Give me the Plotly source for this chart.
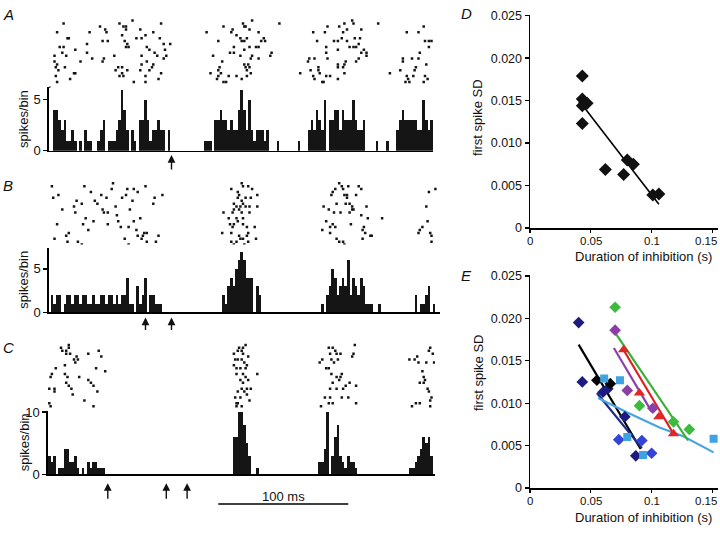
import plotly.graph_objects as go

W, H = 720, 534
FONT = "Liberation Sans, Arial, sans-serif"

# ---------------- histogram data (spikes per 2-ms bin) ----------------
BIN_MS = 2
a_start, b_start, c_start = 4, 2, 0

a_counts = ([4, 4, 3, 2, 3, 1, 1, 2, 1, 0, 1, 0, 2, 1, 1, 0, 0, 1, 2, 3, 0, 1, 1, 1, 2, 3, 6, 4, 2, 0,
             2, 1, 0, 3, 3, 5, 3, 1, 2, 2, 3, 2, 2, 0, 2]
            + [0] * 13 + [1, 1, 1, 0]
            + [3, 3, 4, 3, 3, 2, 3, 2, 2, 4, 6, 4, 2, 5, 2, 1, 2, 2, 2, 1, 2]
            + [0, 0, 0, 1] + [0] * 7 + [1, 0, 0, 0]
            + [2, 3, 2, 4, 3, 2, 5, 0, 3, 3, 4, 4, 2, 4, 3, 3, 3, 5, 3, 2, 2, 3]
            + [0, 0, 0, 0, 1, 0, 0, 0, 1, 0, 0, 0]
            + [2, 3, 4, 3, 3, 3, 3, 3, 2, 2, 5, 3, 2, 3])

b_counts = ([2, 1, 2, 2, 0, 1, 2, 2, 1, 2, 2, 1, 2, 2, 1, 1, 2, 1, 1, 2, 2, 1, 2, 2, 1, 2, 1, 2, 2, 4,
             1, 1, 0, 3, 1, 2, 4, 0, 2, 2, 1, 1, 1]
            + [0] * 23
            + [2, 1, 3, 4, 3, 5, 6, 7, 6, 4, 4, 4, 0, 3, 2]
            + [0] * 23
            + [1, 0, 2, 3, 5, 4, 2, 3, 4, 3, 6, 2, 4, 3, 2, 4, 3, 1, 1, 1, 0, 0, 1]
            + [0] * 13
            + [2, 0, 1, 1, 2, 3, 0, 1])

c_counts = ([3, 2, 3, 0, 1, 1, 4, 4, 2, 2, 3, 1, 0, 1, 0, 2, 1, 2, 2, 1, 1, 1]
            + [0] * 49
            + [6, 6, 10, 10, 8, 5, 3, 0, 0, 1]
            + [0] * 23
            + [2, 2, 4, 10, 0, 3, 6, 8, 3, 2, 1, 3, 2, 2, 1]
            + [0] * 20
            + [1, 1, 2, 3, 4, 6, 5, 6, 3])

# ---------------- raster data: (spike time ms, trial) ----------------
a_spikes = [
    (12, 2), (7, 5), (15, 7), (16, 7), (9, 10), (12, 10), (11, 12), (5, 13), (14, 13), (21, 11), (5, 15),
    (7, 16), (6, 17), (13, 17), (8, 18), (20, 19), (21, 19), (6, 20), (7, 22), (17, 21), (1, 24),
    (32, 5), (30, 9), (25, 15), (30, 12), (34, 14), (40, 3), (44, 4), (45, 5), (46, 8), (42, 8), (43, 14),
    (42, 15), (51, 13), (55, 2), (58, 3), (60, 3), (60, 4), (65, 1), (71, 4), (57, 6), (59, 8), (61, 9),
    (60, 10), (62, 10), (68, 7), (75, 6), (72, 7), (81, 5), (87, 2), (86, 7), (89, 9), (94, 9), (76, 10),
    (78, 11), (72, 13), (82, 12), (84, 13), (90, 11), (91, 13), (54, 17), (52, 18), (57, 17), (61, 18),
    (57, 19), (55, 20), (58, 20), (72, 16), (76, 15), (80, 17), (71, 18), (78, 18), (89, 14), (87, 19),
    (85, 21), (75, 20), (75, 22), (66, 22), (81, 16),
    (122, 5), (135, 3), (131, 8), (127, 13), (134, 15), (132, 17), (131, 18), (133, 19), (125, 19),
    (131, 20), (130, 21), (135, 22), (137, 22), (139, 20), (145, 20), (149, 21), (150, 2), (151, 3),
    (152, 3), (157, 1), (155, 4), (142, 4), (141, 5), (145, 6), (148, 7), (149, 8), (151, 8), (153, 7),
    (162, 5), (166, 7), (164, 8), (160, 10), (155, 10), (162, 10), (167, 8), (172, 12), (171, 13),
    (143, 10), (143, 12), (140, 12), (151, 11), (148, 13), (157, 13), (156, 14), (162, 14), (154, 16),
    (151, 16), (152, 17), (155, 17), (153, 18), (156, 19), (153, 20), (178, 2),
    (204, 5), (207, 8), (213, 5), (215, 3), (224, 3), (228, 2), (234, 1), (235, 2), (230, 4), (227, 5),
    (226, 7), (223, 8), (220, 8), (230, 8), (236, 7), (241, 4), (240, 7), (235, 10), (232, 10), (237, 10),
    (239, 9), (243, 11), (245, 12), (245, 13), (241, 12), (239, 14), (237, 15), (223, 11), (214, 10),
    (214, 12), (215, 14), (205, 14), (201, 14), (200, 15), (202, 18), (204, 20), (208, 17), (208, 18),
    (209, 19), (205, 21), (211, 22), (212, 22), (214, 20), (217, 20), (223, 21), (223, 17), (223, 16),
    (229, 15), (228, 16), (227, 17), (228, 19), (194, 19), (254, 2),
    (276, 5), (285, 5), (289, 3), (293, 8), (295, 8), (290, 8), (293, 10), (286, 12), (285, 14), (280, 14),
    (273, 14), (273, 15), (283, 17), (291, 16), (282, 18), (271, 18), (276, 20), (281, 20), (277, 21),
    (275, 22), (278, 22), (289, 22), (290, 20), (292, 21), (263, 19),
]

b_spikes = [
    (3, 2), (4, 6), (8, 5), (7, 15), (5, 20), (11, 10), (16, 18), (14, 19), (15, 21), (20, 9), (21, 11),
    (22, 7), (26, 8), (23, 21), (26, 22), (28, 2), (27, 15), (29, 13), (31, 17), (33, 4), (35, 14), (36, 7),
    (38, 8), (41, 5), (42, 10), (43, 11), (45, 6), (46, 11), (46, 15), (49, 3), (50, 1), (52, 9), (53, 12),
    (54, 14), (56, 16), (57, 6), (59, 20), (60, 5), (61, 3), (62, 22), (63, 10), (62, 16), (65, 7), (66, 3),
    (69, 4), (68, 17), (69, 19), (71, 13), (72, 20), (73, 19), (75, 2), (74, 18), (76, 18), (76, 21),
    (81, 8), (82, 6), (83, 21), (85, 19), (88, 5), (66, 14),
    (134, 18), (135, 11), (139, 13), (141, 3), (149, 1), (150, 2), (154, 2), (157, 3), (146, 4), (147, 5),
    (146, 6), (152, 6), (156, 6), (161, 5), (143, 8), (145, 9), (149, 7), (150, 8), (152, 9), (155, 9),
    (161, 9), (143, 10), (142, 11), (147, 10), (148, 9), (145, 13), (150, 13), (149, 11), (155, 11),
    (146, 14), (150, 15), (143, 15), (140, 15), (153, 16), (142, 16), (159, 16), (141, 18), (154, 18),
    (153, 19), (147, 19), (150, 20), (148, 20), (145, 21), (160, 20), (141, 21), (143, 22), (151, 22),
    (154, 21),
    (211, 17), (212, 9), (214, 14), (216, 10), (217, 16), (217, 18), (218, 5), (219, 4), (220, 11),
    (221, 3), (222, 8), (222, 20), (224, 21), (224, 1), (225, 11), (226, 2), (227, 3), (228, 5), (229, 8),
    (230, 5), (230, 6), (231, 2), (232, 8), (232, 11), (233, 15), (234, 10), (234, 9), (235, 10), (237, 5),
    (239, 2), (241, 3), (241, 12), (242, 17), (243, 16), (244, 18), (245, 9), (246, 13), (248, 19),
    (249, 19), (227, 21), (228, 22), (221, 16), (219, 15), (257, 13), (242, 20),
    (293, 4), (298, 3), (291, 9), (292, 14), (288, 16), (286, 17), (285, 18), (294, 18), (295, 19),
    (295, 21),
]

c_spikes = [
    (1, 21), (2, 22), (1, 16), (2, 12), (3, 11), (5, 16), (5, 17), (6, 9), (11, 3), (10, 2), (14, 3),
    (16, 1), (16, 2), (14, 4), (17, 4), (20, 6), (21, 7), (22, 5), (23, 6), (24, 12), (13, 8), (13, 11),
    (15, 12), (14, 14), (16, 15), (18, 16), (19, 18), (28, 20), (31, 4), (39, 3), (41, 5), (37, 9),
    (44, 10), (31, 13), (33, 14), (35, 15), (38, 17), (35, 22),
    (143, 4), (144, 6), (143, 8), (145, 9), (146, 3), (147, 2), (150, 2), (152, 1), (149, 3), (150, 4),
    (146, 6), (149, 6), (151, 7), (154, 5), (148, 9), (152, 9), (153, 8), (145, 11), (150, 11), (152, 12),
    (148, 13), (154, 13), (150, 14), (153, 16), (156, 16), (149, 16), (151, 17), (146, 17), (153, 18),
    (144, 19), (148, 19), (145, 21), (146, 21), (155, 20), (161, 11), (149, 22), (145, 22),
    (209, 7), (211, 6), (214, 9), (216, 2), (217, 4), (219, 2), (221, 3), (222, 4), (225, 4), (218, 6),
    (220, 7), (223, 6), (216, 9), (218, 11), (222, 12), (226, 11), (224, 13), (225, 12), (219, 14),
    (217, 16), (222, 16), (227, 16), (229, 15), (217, 19), (213, 19), (216, 21), (210, 22), (219, 21),
    (226, 19), (231, 19), (236, 1), (235, 4), (234, 5), (232, 14), (237, 15), (237, 21),
    (278, 6), (284, 5), (282, 6), (285, 7), (288, 10), (289, 12), (291, 7), (293, 3), (294, 2), (296, 4),
    (297, 7), (286, 14), (289, 14), (290, 13), (292, 16), (293, 17), (295, 19), (294, 20), (280, 22),
    (283, 21), (286, 21), (294, 22),
]

a_arrows = [95]
b_arrows = [75, 95]
c_arrows = [46, 91, 107]
scalebar_ms = [131, 231]

# ---------------- panel D ----------------
d_x = [0.043, 0.043, 0.045, 0.047, 0.043, 0.043, 0.062, 0.077, 0.080, 0.085, 0.101, 0.106]
d_y = [0.0179, 0.0152, 0.0148, 0.0147, 0.0144, 0.0123, 0.0069, 0.0063, 0.0080, 0.0075, 0.0039, 0.0040]
d_fit_x = [0.044, 0.106]
d_fit_y = [0.0143, 0.0028]

# ---------------- panel E ----------------
e_navy_x = [0.040, 0.043, 0.060, 0.064, 0.078, 0.087]
e_navy_y = [0.0195, 0.0125, 0.0113, 0.0117, 0.0084, 0.0038]
e_blue_x = [0.073, 0.092, 0.100]
e_blue_y = [0.0057, 0.0056, 0.0041]
e_black_x = [0.055, 0.066]
e_black_y = [0.0127, 0.0123]
e_lblue_x = [0.061, 0.074, 0.080, 0.093, 0.151]
e_lblue_y = [0.0129, 0.0127, 0.0060, 0.0039, 0.0058]
e_purple_x = [0.070, 0.080, 0.101]
e_purple_y = [0.0186, 0.0115, 0.0094]
e_green_x = [0.070, 0.090, 0.118, 0.131]
e_green_y = [0.0213, 0.0097, 0.0078, 0.0069]
e_red_x = [0.077, 0.090, 0.106, 0.118]
e_red_y = [0.0163, 0.0112, 0.0084, 0.0064]

fit_black = ([0.040, 0.091], [0.0169, 0.0046])
fit_navy = ([0.055, 0.092], [0.0112, 0.0047])
fit_lblue = ([0.056, 0.080, 0.107, 0.126, 0.151], [0.0106, 0.0089, 0.0071, 0.0061, 0.0042])
fit_green = ([0.070, 0.130], [0.0183, 0.0056])
fit_red = ([0.076, 0.118], [0.0165, 0.0064])
fit_purple = ([0.069, 0.100], [0.0165, 0.0090])

sd_ticks = [0, 0.005, 0.010, 0.015, 0.020, 0.025]
sd_ticktext = ["0", "0.005", "0.010", "0.015", "0.020", "0.025"]
dur_ticks = [0, 0.05, 0.1, 0.15]
dur_ticktext = ["0", "0.05", "0.1", "0.15"]


# ---------------- layout helpers ----------------
def xd(x0, x1):
    return [x0 / W, x1 / W]


def yd(top, bottom):
    return [1 - bottom / H, 1 - top / H]


def ypix(y):
    return 1 - y / H


PX0, PXMS = 48.0, 1.3  # left px of time 0, px per ms


def ms_range(x0, x1):
    return [(x0 - PX0) / PXMS, (x1 - PX0) / PXMS]


fig = go.Figure()

panels = [
    ("A", a_counts, a_start, a_spikes),
    ("B", b_counts, b_start, b_spikes),
    ("C", c_counts, c_start, c_spikes),
]

hist_geom = {  # x0, x1, top, bottom, ymax, tickvals, ticktext
    "A": (49, 433, 83, 148.7, 6.27, [0, 5], ["0", "5"]),
    "B": (49, 440, 249, 314.7, 7.35, [0, 5], ["0", "5"]),
    "C": (48, 435, 416, 481, 10.15, [0, 10], ["0", "10"]),
}
raster_geom = {"A": (12, 84, 24), "B": (179, 245, 22), "C": (345, 414, 23)}

layout_axes = {}
for i, (name, counts, start, spikes) in enumerate(panels):
    hx, hy = 2 * i + 1, 2 * i + 1
    rx, ry = 2 * i + 2, 2 * i + 2
    x0, x1, top, bot, ymax, tv, tt = hist_geom[name]
    xa = "x" if hx == 1 else f"x{hx}"
    ya = "y" if hy == 1 else f"y{hy}"
    centers = [start + BIN_MS * k + BIN_MS / 2 for k in range(len(counts))]
    fig.add_trace(go.Bar(x=centers, y=counts, width=BIN_MS, offset=-BIN_MS / 2,
                         marker=dict(color="#151515", line=dict(width=0)),
                         xaxis=xa, yaxis=ya, showlegend=False))
    layout_axes[f"xaxis{hx}" if hx > 1 else "xaxis"] = dict(
        domain=xd(x0, x1), range=ms_range(x0, x1), anchor=ya, showline=True,
        linecolor="black", linewidth=1.6, ticks="", showticklabels=False,
        showgrid=False, zeroline=False, fixedrange=True)
    layout_axes[f"yaxis{hy}" if hy > 1 else "yaxis"] = dict(
        domain=yd(top, bot), range=[0, ymax], anchor=xa, showline=True,
        linecolor="black", linewidth=1.6, ticks="outside", ticklen=4, tickwidth=1.3,
        tickcolor="black", tickvals=tv, ticktext=tt,
        tickfont=dict(family=FONT, size=13, color="#111"),
        showgrid=False, zeroline=False)
    rt, rb, rmax = raster_geom[name]
    rxa, rya = f"x{rx}", f"y{ry}"
    fig.add_trace(go.Scatter(x=[s[0] for s in spikes], y=[s[1] for s in spikes],
                             mode="markers",
                             marker=dict(symbol="square", size=2.5, color="#151515"),
                             xaxis=rxa, yaxis=rya, showlegend=False))
    layout_axes[f"xaxis{rx}"] = dict(domain=xd(x0, x1), range=ms_range(x0, x1),
                                     anchor=rya, visible=False)
    layout_axes[f"yaxis{ry}"] = dict(domain=yd(rt, rb), range=[rmax, 0],
                                     anchor=rxa, visible=False)

# ---------------- D and E scatter panels ----------------
sc_x0, sc_x1 = 530, 718
dur_range = [0, (sc_x1 - sc_x0) / 1216.0]


def sc_axes(top, bot, xa, ya):
    ax_x = dict(domain=xd(sc_x0, sc_x1), range=dur_range, anchor=ya, showline=True,
                linecolor="black", linewidth=1.5, ticks="outside", ticklen=3, tickwidth=1.3,
                tickcolor="black", tickvals=dur_ticks, showticklabels=False,
                showgrid=False, zeroline=False)
    ax_y = dict(domain=yd(top, bot), range=[0, 0.02505], anchor=xa, showline=True,
                linecolor="black", linewidth=1.5, ticks="outside", ticklen=4, tickwidth=1.3,
                tickcolor="black", tickvals=sd_ticks, ticktext=sd_ticktext,
                tickfont=dict(family=FONT, size=12.5, color="#111"),
                showgrid=False, zeroline=False)
    return ax_x, ax_y


layout_axes["xaxis7"], layout_axes["yaxis7"] = sc_axes(9.5, 228, "x7", "y7")
layout_axes["xaxis8"], layout_axes["yaxis8"] = sc_axes(276.7, 495, "x8", "y8")

fig.add_trace(go.Scatter(x=d_fit_x, y=d_fit_y, mode="lines", line=dict(color="black", width=1.6),
                         xaxis="x7", yaxis="y7", showlegend=False))
fig.add_trace(go.Scatter(x=d_x, y=d_y, mode="markers",
                         marker=dict(symbol="diamond", size=10, color="#111"),
                         xaxis="x7", yaxis="y7", showlegend=False))

fits = [
    (fit_black, "#000000"),
    (fit_navy, "#1d2a8c"),
    (fit_lblue, "#47a6e0"),
    (fit_purple, "#8e40aa"),
    (fit_red, "#e02020"),
    (fit_green, "#36b036"),
]
for (fx, fy), col in fits:
    fig.add_trace(go.Scatter(x=fx, y=fy, mode="lines", line=dict(color=col, width=2.2),
                             xaxis="x8", yaxis="y8", showlegend=False))

series = [
    (e_navy_x, e_navy_y, "diamond", 9, "#1c1c80"),
    (e_blue_x, e_blue_y, "diamond", 9, "#3344d6"),
    (e_black_x, e_black_y, "diamond", 9, "#050505"),
    (e_lblue_x, e_lblue_y, "square", 8, "#3fa2e2"),
    (e_purple_x, e_purple_y, "diamond", 9, "#8b3fa6"),
    (e_green_x, e_green_y, "diamond", 9, "#3cbc3c"),
    (e_red_x, e_red_y, "triangle-up", 10, "#e22626"),
]
for sx, sy, sym, sz, col in series:
    fig.add_trace(go.Scatter(x=sx, y=sy, mode="markers",
                             marker=dict(symbol=sym, size=sz, color=col),
                             xaxis="x8", yaxis="y8", showlegend=False))

# ---------------- annotations ----------------
ann = []


def text(x, y, s, size=13, angle=0, xanchor="center", italic=False):
    ann.append(dict(x=x / W, y=ypix(y), xref="paper", yref="paper", text=f"<i>{s}</i>" if italic else s,
                    showarrow=False, textangle=angle, xanchor=xanchor, yanchor="middle",
                    font=dict(family=FONT, size=size, color="#111")))


text(1, 9, "A", 15, xanchor="left", italic=True)
text(1, 184, "B", 15, xanchor="left", italic=True)
text(1, 351, "C", 15, xanchor="left", italic=True)
text(459, 8, "D", 15, xanchor="left", italic=True)
text(459, 277, "E", 15, xanchor="left", italic=True)

for yc in (116, 281, 448):
    text(24, yc, "spikes/bin", 13, angle=-90)
text(478, 115, "first spike SD", 13, angle=-90)
text(478, 377, "first spike SD", 13, angle=-90)
text(643, 257, "Duration of inhibition (s)", 13)
text(643, 525, "Duration of inhibition (s)", 13)

# x tick labels of D and E (last one kept inside the page edge)
for xa, ylab in (("x7", 241), ("x8", 508)):
    for v, s in zip(dur_ticks, dur_ticktext):
        last = v == dur_ticks[-1]
        ann.append(dict(x=(719 / W) if last else v, y=ypix(ylab),
                        xref="paper" if last else xa, yref="paper", text=s, showarrow=False,
                        xanchor="right" if last else "center", yanchor="middle",
                        font=dict(family=FONT, size=11.5, color="#111")))

for arrows, xa, tip, length in ((a_arrows, "x", 153, 16), (b_arrows, "x3", 320, 14),
                                (c_arrows, "x5", 490, 17)):
    for t in arrows:
        ann.append(dict(x=t, y=ypix(tip), xref=xa, yref="paper", ax=0, ay=length,
                        axref="pixel", ayref="pixel", showarrow=True, arrowhead=2,
                        arrowsize=1.1, arrowwidth=1.4, arrowcolor="#111", text=""))

ann.append(dict(x=(scalebar_ms[0] + scalebar_ms[1]) / 2, y=ypix(504), xref="x5", yref="paper",
                text="100 ms", showarrow=False, yanchor="middle",
                font=dict(family=FONT, size=13, color="#111")))

shapes = [dict(type="line", xref="x5", yref="paper", x0=scalebar_ms[0], x1=scalebar_ms[1],
               y0=ypix(511.5), y1=ypix(511.5), line=dict(color="black", width=1.5))]

fig.update_layout(width=W, height=H, margin=dict(l=0, r=0, t=0, b=0),
                  paper_bgcolor="white", plot_bgcolor="white", bargap=0,
                  annotations=ann, shapes=shapes, showlegend=False,
                  font=dict(family=FONT, color="#111"), **layout_axes)

fig.write_html("out.html", config={"displayModeBar": False, "staticPlot": True},
               post_script="document.body.style.margin='0';document.body.style.overflow='hidden';")
